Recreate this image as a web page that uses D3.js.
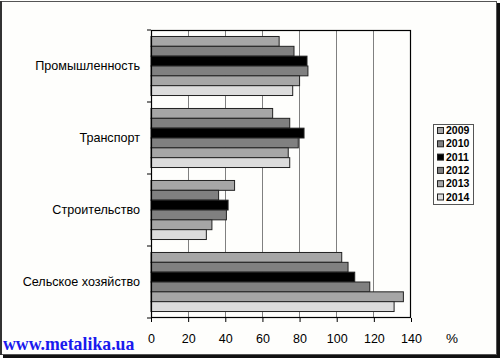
<!DOCTYPE html>
<html><head><meta charset="utf-8">
<script src="https://cdn.jsdelivr.net/npm/d3@7"></script>
<style>body{margin:0;background:#fff}svg{display:block}</style>
</head><body>
<svg id="c" width="500" height="358"></svg>
<script>
const categories = ["Промышленность","Транспорт","Строительство","Сельское хозяйство"];
const years = ["2009","2010","2011","2012","2013","2014"];
const s2009 = [69, 65.5, 45, 102.7];
const s2010 = [77, 74.7, 36.4, 106.1];
const s2011 = [84, 82.4, 41.5, 109.7];
const s2012 = [84.5, 79.3, 40.6, 117.8];
const s2013 = [80, 73.9, 32.8, 135.9];
const s2014 = [76.3, 74.7, 29.8, 130.9];
const seriesValues = [s2009, s2010, s2011, s2012, s2013, s2014];
const xTicks = [0,20,40,60,80,100,120,140];
const colors = ["#a6a6a6","#808080","#000000","#808080","#a6a6a6","#dcdcdc"];

const svg = d3.select("#c");
// background and frame
svg.append("rect").attr("x",0).attr("y",0).attr("width",500).attr("height",358).attr("fill","#fefefc");
svg.append("rect").attr("x",497).attr("y",3).attr("width",3).attr("height",355).attr("fill","#111");
svg.append("rect").attr("x",3).attr("y",355).attr("width",497).attr("height",3).attr("fill","#111");
svg.append("rect").attr("x",0.5).attr("y",1.5).attr("width",496).attr("height",353).attr("fill","none").attr("stroke","#555").attr("stroke-width",1);
svg.append("rect").attr("x",0).attr("y",1).attr("width",2).attr("height",354).attr("fill","#333");

const L = 151, R = 411, T = 30, B = 318;
const x = d3.scaleLinear().domain([0,140]).range([L,R]);
const y = d3.scaleBand().domain(categories).range([T,B]).paddingInner(0.18).paddingOuter(0.09);
const yInner = d3.scaleBand().domain(years).range([0,y.bandwidth()]);

// gridlines
svg.append("g").selectAll("line").data(xTicks.slice(1,-1)).join("line")
  .attr("x1",d=>x(d)).attr("x2",d=>x(d)).attr("y1",T).attr("y2",B)
  .attr("stroke","#808080").attr("stroke-width",1).attr("shape-rendering","crispEdges");

// bars
categories.forEach((c,ci)=>{
  svg.append("g").selectAll("rect").data(years).join("rect")
    .attr("x",x(0)).attr("y",(d)=>y(c)+yInner(d))
    .attr("width",(d,i)=>x(seriesValues[i][ci])-x(0))
    .attr("height",yInner.bandwidth())
    .attr("fill",(d,i)=>colors[i]).attr("stroke","#222").attr("stroke-width",1);
});

// plot border
svg.append("rect").attr("x",L+0.5).attr("y",T+0.5).attr("width",R-L-1).attr("height",B-T-1)
  .attr("fill","none").attr("stroke","#000").attr("stroke-width",1.2);

// y boundary ticks
const bounds = d3.range(categories.length+1).map(i=>T+(B-T)*i/categories.length);
svg.append("g").selectAll("line").data(bounds).join("line")
  .attr("x1",L-4).attr("x2",L).attr("y1",d=>d).attr("y2",d=>d).attr("stroke","#000");

// category labels
svg.append("g").selectAll("text").data(categories).join("text")
  .attr("x",140).attr("y",(d,i)=>T+(B-T)*(i+0.5)/categories.length)
  .attr("dy","0.35em").attr("text-anchor","end")
  .attr("font-family","Liberation Sans, Arial, sans-serif").attr("font-size",12.6).attr("fill","#000")
  .text(d=>d);

// x axis
const xAxis = svg.append("g").attr("transform",`translate(0,${B})`)
  .call(d3.axisBottom(x).tickValues(xTicks).tickSize(4).tickPadding(12));
xAxis.select(".domain").remove();
xAxis.selectAll("text").attr("font-family","Liberation Sans, Arial, sans-serif").attr("font-size",12.5).attr("fill","#000");
xAxis.selectAll("line").attr("stroke","#000");

svg.append("text").attr("x",452).attr("y",343).attr("text-anchor","middle")
  .attr("font-family","Liberation Sans, Arial, sans-serif").attr("font-size",13.5).text("%");

// legend
const lg = svg.append("g");
lg.append("rect").attr("x",433.5).attr("y",124.5).attr("width",40).attr("height",80)
  .attr("fill","#fefefc").attr("stroke","#555");
years.forEach((yr,i)=>{
  const cy = 130.5 + i*13.3;
  lg.append("rect").attr("x",437.5).attr("y",cy-3).attr("width",6).attr("height",6)
    .attr("fill",colors[i]).attr("stroke","#222");
  lg.append("text").attr("x",446).attr("y",cy).attr("dy","0.35em")
    .attr("font-family","Liberation Sans, Arial, sans-serif").attr("font-size",10.5).attr("font-weight","bold").text(yr);
});

// watermark
svg.append("text").attr("x",3).attr("y",350)
  .attr("font-family","Liberation Serif, Times New Roman, serif").attr("font-size",17.8).attr("font-weight","bold")
  .attr("fill","#1a1aee").text("www.metalika.ua");
</script>
</body></html>
